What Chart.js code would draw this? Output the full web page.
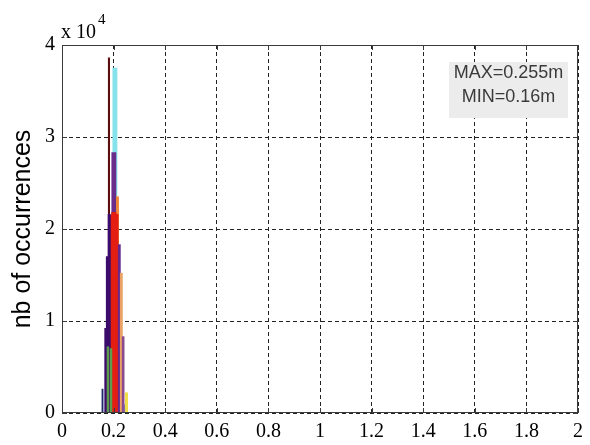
<!DOCTYPE html>
<html>
<head>
<meta charset="utf-8">
<script src="https://cdn.jsdelivr.net/npm/chart.js@4.4.1/dist/chart.umd.min.js"></script>
<style>
  html, body { margin: 0; padding: 0; background: #fff; }
  #wrap { width: 590px; height: 445px; }
</style>
</head>
<body>
<div id="wrap"><canvas id="hist"></canvas></div>
<script>
// axis ticks (y shown in units of 10^4)
const xTicks = [0, 0.2, 0.4, 0.6, 0.8, 1, 1.2, 1.4, 1.6, 1.8, 2];
const yTicks = [0, 10000, 20000, 30000, 40000];
const yTickLabels = ['0', '1', '2', '3', '4'];
const yTitle = 'nb of occurrences';
const annotationLines = ['MAX=0.255m', 'MIN=0.16m'];

// histograms: bin centre (m) and count, one pair of arrays per colour
const yellowX = [0.250];                 const yellowY = [2200];
const lilacX = [0.243];                  const lilacY = [900];
const mauveX = [0.237];                  const mauveY = [8300];
const tanX = [0.230];                    const tanY = [15200];
const violetX = [0.222];                 const violetY = [18300];
const greenX = [0.178, 0.190];           const greenY = [7200, 7000];
const navyX = [0.157];                   const navyY = [2600];
const indigoX = [0.170, 0.176, 0.183];   const indigoY = [9200, 17000, 21600];
const redX = [0.189, 0.197, 0.205, 0.213]; const redY = [21500, 21800, 21800, 21600];
const orangeX = [0.215];                 const orangeY = [23500];
const purpleX = [0.201];                 const purpleY = [28300];
const cyanX = [0.205];                   const cyanY = [37500];
const maroonX = [0.182];                 const maroonY = [38600];

function pts(xs, ys) {
    return xs.map((x, i) => ({ x: x, y: ys[i] }));
}

// first dataset is painted last (on top)
function series(label, xs, ys, color, thick) {
    return {
        label: label,
        data: pts(xs, ys),
        backgroundColor: color,
        borderWidth: 0,
        barThickness: thick,
        grouped: false
    };
}

const datasets = [
    series('yellow', yellowX, yellowY, '#efe04a', 2.4),
    series('lilac', lilacX, lilacY, '#7c6cb0', 1.6),
    series('mauve', mauveX, mauveY, '#8c4a8e', 2.0),
    series('tan', tanX, tanY, '#eaa364', 2.2),
    series('violet', violetX, violetY, '#67288e', 2.2),
    series('green', greenX, greenY, '#5c9c4c', 1.8),
    series('navy', navyX, navyY, '#1c2a6c', 1.2),
    series('indigo', indigoX, indigoY, '#3c0c6c', 2.4),
    series('red', redX, redY, '#e41e12', 2.6),
    series('orange', orangeX, orangeY, '#f08432', 2.2),
    series('purple', purpleX, purpleY, '#6a2d8c', 4.2),
    series('cyan', cyanX, cyanY, '#86e2ea', 4.2),
    series('maroon', maroonX, maroonY, '#5a0c0c', 1.4)
];

const serif = '"Liberation Serif", "Times New Roman", serif';
const sans = '"Liberation Sans", Arial, sans-serif';

// matlab-like box: solid frame, inward ticks, exponent, text box
const matlabBox = {
    id: 'matlabBox',
    afterDatasetsDraw(chart) {
        const { ctx, chartArea: a } = chart;
        const bx = a.right - 129, by = a.top + 17, bw = 119, bh = 56;
        ctx.save();
        ctx.fillStyle = '#ececec';
        ctx.fillRect(bx, by, bw, bh);
        ctx.fillStyle = '#3a3a3a';
        ctx.font = '18px ' + sans;
        ctx.textAlign = 'center';
        ctx.textBaseline = 'middle';
        annotationLines.forEach((t, i) => ctx.fillText(t, bx + bw / 2, by + 11 + i * 24));
        ctx.restore();
    },
    afterDraw(chart) {
        const { ctx, chartArea: a, scales } = chart;
        ctx.save();
        ctx.strokeStyle = '#3a3a3a';
        ctx.lineWidth = 1;
        ctx.strokeRect(a.left + 0.5, a.top + 0.5, a.right - a.left - 1, a.bottom - a.top - 1);
        ctx.beginPath();
        xTicks.forEach(v => {
            const px = Math.round(scales.x.getPixelForValue(v)) + 0.5;
            ctx.moveTo(px, a.bottom); ctx.lineTo(px, a.bottom - 5);
            ctx.moveTo(px, a.top); ctx.lineTo(px, a.top + 5);
        });
        yTicks.forEach(v => {
            const py = Math.round(scales.y.getPixelForValue(v)) + 0.5;
            ctx.moveTo(a.left, py); ctx.lineTo(a.left + 5, py);
            ctx.moveTo(a.right, py); ctx.lineTo(a.right - 5, py);
        });
        ctx.stroke();

        // "x 10^4" above the y axis
        ctx.fillStyle = '#000';
        ctx.textBaseline = 'alphabetic';
        ctx.textAlign = 'left';
        ctx.font = '20px ' + serif;
        ctx.fillText('x 10', a.left - 1, a.top - 7);
        const w = ctx.measureText('x 10').width;
        ctx.font = '15px ' + serif;
        ctx.fillText('4', a.left + w + 1, a.top - 21);
        ctx.restore();
    }
};

new Chart(document.getElementById('hist'), {
    type: 'bar',
    data: { datasets: datasets },
    plugins: [matlabBox],
    options: {
        responsive: true,
        maintainAspectRatio: false,
        animation: false,
        layout: { padding: { top: 45, right: 9, bottom: 0, left: 0 } },
        plugins: {
            legend: { display: false },
            tooltip: { enabled: false }
        },
        scales: {
            x: {
                type: 'linear',
                min: 0,
                max: 2,
                offset: false,
                afterBuildTicks: (s) => { s.ticks = xTicks.map(v => ({ value: v })); },
                afterFit: (s) => { s.height = 32; },
                ticks: {
                    color: '#000',
                    font: { family: serif, size: 20 },
                    padding: 7,
                    maxRotation: 0,
                    autoSkip: false,
                    callback: (v) => String(Number(v.toFixed(1)))
                },
                grid: {
                    offset: false,
                    drawTicks: false,
                    color: '#222',
                    lineWidth: 1
                },
                border: { display: false, dash: [4, 3] }
            },
            y: {
                min: 0,
                max: 40000,
                afterBuildTicks: (s) => { s.ticks = yTicks.map(v => ({ value: v })); },
                afterFit: (s) => { s.width = 62; },
                ticks: {
                    color: '#000',
                    font: { family: serif, size: 20 },
                    padding: 7,
                    callback: (v) => yTickLabels[yTicks.indexOf(v)]
                },
                grid: {
                    drawTicks: false,
                    color: '#222',
                    lineWidth: 1
                },
                border: { display: false, dash: [4, 3] },
                title: {
                    display: true,
                    text: yTitle,
                    color: '#000',
                    font: { family: sans, size: 25 },
                    padding: { top: 8, bottom: 0 }
                }
            }
        }
    }
});
</script>
</body>
</html>
